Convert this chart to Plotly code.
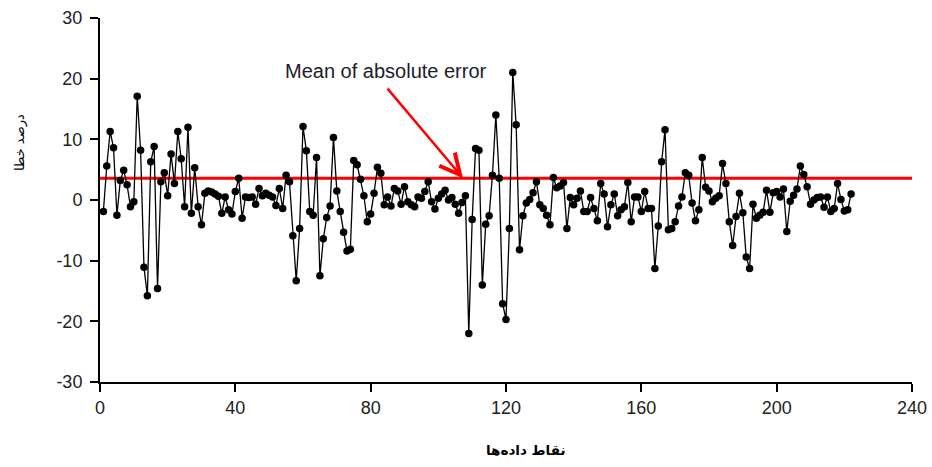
import plotly.graph_objects as go

# data point index (1..222)
point_index = list(range(1, 223))

# percentage error
error_pct = [
    -1.9, 5.6, 11.3, 8.6, -2.5, 3.2, 4.9, 2.5, -1.1, -0.3,
    17.1, 8.2, -11.1, -15.8, 6.3, 8.8, -14.6, 3.0, 4.5, 0.7,
    7.6, 2.7, 11.3, 6.8, -1.1, 12.0, -2.2, 5.3, -1.1, -4.1,
    1.1, 1.5, 1.3, 1.0, 0.6, -2.2, 0.5, -1.6, -2.3, 1.4,
    3.6, -3.0, 0.5, 0.4, 0.5, -0.7, 1.9, 0.7, 1.1, 0.8,
    0.5, -0.9, 1.9, -1.4, 4.1, 3.0, -5.9, -13.3, -4.7, 12.1,
    8.1, -1.9, -2.5, 7.0, -12.5, -6.4, -2.9, -1.0, 10.3, 1.5,
    -1.9, -5.3, -8.4, -8.1, 6.5, 5.8, 3.4, 0.7, -3.6, -2.3,
    1.1, 5.4, 4.4, -0.8, 0.5, -1.0, 1.9, 1.5, -0.7, 2.2,
    -0.3, -0.8, -1.1, 0.5, 0.3, 1.4, 3.0, -0.3, -1.5, 0.3,
    1.0, 1.6, 0.0, 0.4, -0.7, -2.2, -0.4, 0.7, -22.0, -3.2,
    8.5, 8.2, -14.0, -4.0, -2.6, 4.1, 14.0, 3.6, -17.1, -19.7,
    -4.7, 21.0, 12.4, -8.2, -2.6, -0.5, 0.1, 1.2, 3.0, -0.8,
    -1.4, -2.5, -4.1, 3.7, 2.0, 2.3, 2.9, -4.7, 0.4, -0.8,
    0.3, 1.5, -1.9, -1.9, 0.4, -1.4, -3.4, 2.7, 1.0, -4.4,
    -0.8, 1.0, -2.6, -1.6, -1.1, 2.9, -3.6, 0.5, 0.5, -1.9,
    1.4, -1.4, -1.4, -11.3, -4.3, 6.3, 11.6, -4.9, -4.7, -3.6,
    -1.0, 0.5, 4.5, 4.1, -0.5, -3.4, -1.6, 7.0, 2.1, 1.5,
    -0.3, 0.3, 0.7, 6.0, 2.7, -3.6, -7.5, -2.7, 1.1, -2.1,
    -9.4, -11.3, -0.7, -3.0, -2.5, -2.0, 1.6, -2.0, 1.2, 1.4,
    0.5, 1.8, -5.2, -0.2, 0.8, 1.8, 5.6, 4.2, 2.2, -0.7,
    0.0, 0.4, 0.5, -1.2, 0.5, -1.9, -1.4, 2.7, 0.1, -1.8,
    -1.6, 1.0,
]

mean_abs_error = 3.6
x_ticks = [0, 40, 80, 120, 160, 200, 240]
x_tick_labels = ["0", "40", "80", "120", "160", "200", "240"]
y_ticks = [-30, -20, -10, 0, 10, 20, 30]
y_tick_labels = ["-30", "-20", "-10", "0", "10", "20", "30"]
x_range = [0, 240]
y_range = [-30, 30]

fig = go.Figure()

fig.add_trace(go.Scatter(
    x=x_range, y=[mean_abs_error, mean_abs_error], mode="lines",
    line=dict(color="#ff0000", width=3), hoverinfo="skip", showlegend=False,
))

fig.add_trace(go.Scatter(
    x=point_index, y=error_pct, mode="lines+markers",
    line=dict(color="black", width=1.3),
    marker=dict(color="black", size=7.5),
    showlegend=False,
))

# arrow
fig.add_annotation(
    x=107.3, y=mean_abs_error, ax=84.6, ay=18.6,
    xref="x", yref="y", axref="x", ayref="y",
    text="", showarrow=True, arrowhead=5, arrowsize=1.6,
    arrowwidth=2.5, arrowcolor="#ff0000",
)
fig.add_annotation(
    x=84.5, y=21.2, xref="x", yref="y", text="Mean of absolute error",
    showarrow=False, font=dict(family="Liberation Sans, Arial", size=20, color="#1c1c2c"),
)

# axis titles
fig.add_annotation(
    x=0.5246, y=-0.215, xref="paper", yref="paper", text="<b>نقاط داده‌ها</b>",
    showarrow=False, font=dict(family="DejaVu Sans", size=13.5, color="black"),
)
fig.add_annotation(
    x=-0.111, y=0.659, xref="paper", yref="paper", text="درصد خطا", textangle=-90,
    showarrow=False, font=dict(family="DejaVu Sans", size=13, color="black"),
)

axis_font = dict(family="Liberation Sans, Arial", size=18, color="#222222")

fig.update_xaxes(
    range=x_range, tickvals=x_ticks, ticktext=x_tick_labels, showgrid=False, zeroline=False,
    showline=True, linecolor="black", linewidth=2,
    ticks="outside", ticklen=8, tickwidth=2, tickcolor="black",
    tickfont=axis_font,
)
fig.update_yaxes(
    range=y_range, tickvals=y_ticks, ticktext=y_tick_labels, showgrid=False, zeroline=False,
    showline=True, linecolor="black", linewidth=2,
    ticks="outside", ticklen=8, tickwidth=2, tickcolor="black",
    tickfont=axis_font, ticklabelstandoff=4,
)

fig.update_layout(
    width=932, height=467,
    margin=dict(l=100, r=20, t=18, b=85, autoexpand=False),
    paper_bgcolor="white", plot_bgcolor="white",
)

fig.write_html("out.html")
